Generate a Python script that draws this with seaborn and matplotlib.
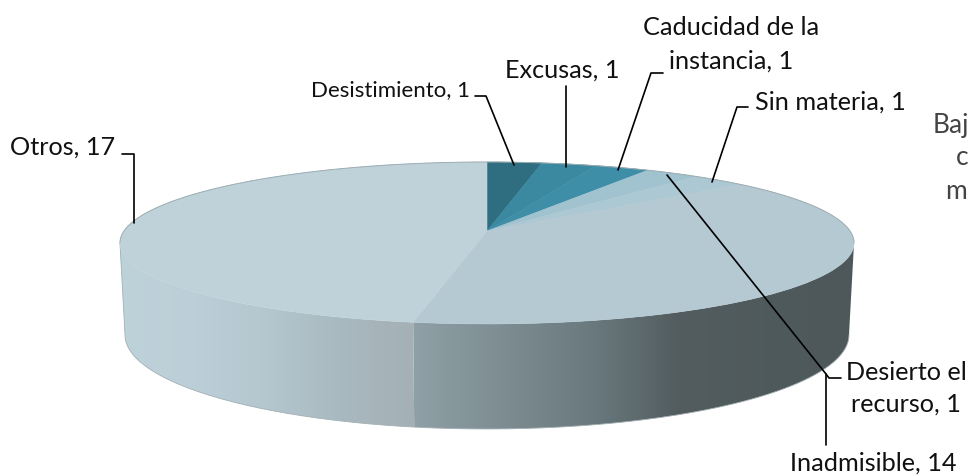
import numpy as np
import matplotlib
matplotlib.use("Agg")
import matplotlib.pyplot as plt
import seaborn as sns
from matplotlib.path import Path
from matplotlib.patches import PathPatch
from matplotlib.transforms import Transform

categories = ["Desistimiento", "Excusas", "Caducidad de la\ninstancia", "Sin materia",
              "Desierto el\nrecurso", "Inadmisible", "Otros"]
values = [1, 1, 1, 1, 1, 14, 17]
top_colors = ["#2f6e80", "#3b89a1", "#3f8ea8", "#a0c3cf", "#acc8d3", "#b5c9d3", "#bfd2da"]

# wall shading, left to right, only the two slices that reach the front
wall_stops = {
    "Inadmisible": ["#8fa0a6", "#7d8d92", "#6a7a7f", "#535d60", "#4f5a5c", "#4e585a"],
    "Otros": ["#bed2da", "#bccfd8", "#b4c6ce", "#a9b9c0", "#a4b0b5"],
}

sns.set_theme(style="white")
plt.rcParams["font.family"] = ["Lato", "DejaVu Sans"]

TILT = 0.148


class TiltedDisc(Transform):
    # unit circle seen in perspective, output in image pixels
    input_dims = 2
    output_dims = 2

    def __init__(self, cx, cy, a, c):
        super().__init__()
        self.cx, self.cy, self.a, self.c = cx, cy, a, c

    def transform_non_affine(self, xy):
        xy = np.asarray(xy, dtype=float)
        w = 1 + TILT * xy[:, 1]
        return np.column_stack([self.cx + self.a * xy[:, 0] / w, self.cy - self.c * xy[:, 1] / w])


top_disc = TiltedDisc(487, 232, 363, 79.2)
base_disc = TiltedDisc(487, 322, 358, 92)


def disc_points(disc, cw_deg):
    t = np.radians(90 - cw_deg)
    return disc.transform_non_affine(np.column_stack([np.cos(t), np.sin(t)]))


fig = plt.figure(figsize=(9.7, 4.77), dpi=100)
ax = fig.add_axes([0, 0, 1, 1])

ends = np.cumsum(values) / sum(values) * 360
starts = ends - np.array(values) / sum(values) * 360
limit = np.degrees(np.arcsin(TILT))

# front wall, one gradient per slice, clipped to the band between both discs
for name, a0, a1 in zip(categories, starts, ends):
    if name not in wall_stops:
        continue
    a0 = max(a0, 90 + limit)
    a1 = min(a1, 270 - limit)
    t = np.linspace(a0, a1, 120)
    outline = np.vstack([disc_points(top_disc, t), disc_points(base_disc, t[::-1])])
    cmap = sns.blend_palette(wall_stops[name], as_cmap=True)
    x0, x1 = outline[:, 0].min(), outline[:, 0].max()
    y0, y1 = outline[:, 1].min(), outline[:, 1].max()
    grad = np.linspace(0, 1, 256)[None, :]
    im = ax.imshow(grad, cmap=cmap, extent=(x0, x1, y1, y0), aspect="auto", zorder=1)
    im.set_clip_path(PathPatch(Path(np.vstack([outline, outline[:1]])), transform=ax.transData))

wedges, _ = ax.pie(values, colors=top_colors, startangle=90, counterclock=False, frame=True,
                   wedgeprops={"transform": top_disc + ax.transData, "linewidth": 0.4, "zorder": 2})
for w in wedges:
    w.set_edgecolor(w.get_facecolor())

# thin grey rim along the left and the bottom of the wall, and the back of the top
t = np.linspace(90 + limit, 270 - limit, 200)
rim = disc_points(base_disc, t)
left_top = disc_points(top_disc, t[-1:])
ax.plot(np.r_[rim[:, 0], left_top[:, 0]], np.r_[rim[:, 1], left_top[:, 1]],
        color="#a3afb3", lw=0.6, zorder=1.5)
back = disc_points(top_disc, np.linspace(270 - limit, 450 + limit, 300))
ax.plot(back[:, 0], back[:, 1], color="#9dadb3", lw=0.7, zorder=2.5)

ax.set_aspect("auto")
ax.set_xlim(0, 970)
ax.set_ylim(477, 0)
ax.axis("off")

# leader lines
leaders = [
    [(475, 97), (486, 97), (514, 166)],
    [(566, 87), (566, 168)],
    [(663, 74), (651, 74), (618, 171)],
    [(748, 108), (737, 108), (712, 183)],
    [(841, 379), (829, 379), (826, 375), (667, 176)],
    [(826, 375), (826, 446)],
    [(122, 155), (134, 155), (134, 224)],
]
for pts in leaders:
    xs, ys = zip(*pts)
    ax.plot(xs, ys, color="black", lw=1.2, solid_joinstyle="round", zorder=3)

label_pos = [(391, 90, 16, 1.2), (562, 70, 18.2, 1.2), (731, 44, 18.2, 1.55),
             (830, 102, 18.2, 1.2), (906, 388, 18.2, 1.45), (873, 463, 18.2, 1.2),
             (63, 147, 18.2, 1.2)]
for name, val, (x, y, size, spacing) in zip(categories, values, label_pos):
    ax.text(x, y, f"{name}, {val}", ha="center", va="center", fontsize=size, color="#111111",
            linespacing=spacing, zorder=4)

# title block cut off by the right border in the original
for txt, x, y in [("Baj", 933, 125), ("c", 956, 158), ("m", 945, 192)]:
    ax.text(x, y, txt, ha="left", va="center", fontsize=19, color="#444444")

fig.savefig("out.png", dpi=100)
